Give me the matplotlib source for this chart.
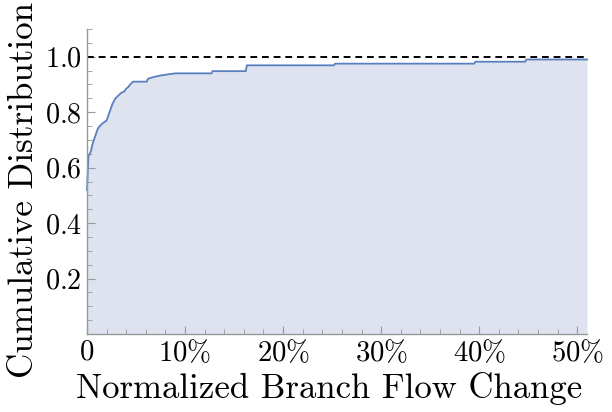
import matplotlib
matplotlib.use("Agg")
import matplotlib.pyplot as plt
from matplotlib.ticker import MultipleLocator

plt.rcParams['mathtext.fontset'] = 'cm'
plt.rcParams['font.family'] = 'serif'
plt.rcParams['font.serif'] = ['cmr10']
plt.rcParams['axes.unicode_minus'] = False

flow_change = [0.0, 0.0015, 0.004, 0.006, 0.008, 0.011, 0.013, 0.016, 0.020, 0.023, 0.026,
               0.029, 0.032, 0.035, 0.038, 0.040, 0.042, 0.044,
               0.047, 0.061, 0.062, 0.067, 0.076, 0.090, 0.127, 0.128, 0.162, 0.163,
               0.252, 0.253, 0.395, 0.396, 0.447, 0.448, 0.51]
cdf = [0.52, 0.64, 0.66, 0.69, 0.71, 0.74, 0.75, 0.76, 0.77, 0.80, 0.83,
       0.85, 0.86, 0.87, 0.875, 0.885, 0.89, 0.90,
       0.91, 0.91, 0.92, 0.926, 0.933, 0.94, 0.94, 0.948, 0.948, 0.969,
       0.969, 0.975, 0.975, 0.982, 0.982, 0.99, 0.99]

x_ticks = [0, 0.1, 0.2, 0.3, 0.4, 0.5]
x_labels = ['0', '10%', '20%', '30%', '40%', '50%']
y_ticks = [0.2, 0.4, 0.6, 0.8, 1.0]
y_labels = ['0.2', '0.4', '0.6', '0.8', '1.0']

W, H = 612, 412
fig = plt.figure(figsize=(W / 100, H / 100), dpi=100)
ax_l, ax_r, ax_b, ax_t = 87, 587, 334, 29
ax = fig.add_axes([ax_l / W, (H - ax_b) / H, (ax_r - ax_l) / W, (ax_b - ax_t) / H])

ax.fill_between(flow_change, cdf, 0, color='#dee3ef', lw=0)
ax.plot(flow_change, cdf, color='#5a7fbf', lw=1.3, clip_on=False)
ax.axhline(1.0, color='black', lw=1.4, ls=(0, (3.5, 2.5)))

ax.set_xlim(0, 0.51)
ax.set_ylim(0, 1.1)
ax.set_xticks(x_ticks)
ax.set_xticklabels([r'$%s$' % l.replace('%', r'\%') for l in x_labels])
ax.set_yticks(y_ticks)
ax.set_yticklabels([r'$%s$' % l for l in y_labels])
ax.xaxis.set_minor_locator(MultipleLocator(0.02))
ax.yaxis.set_minor_locator(MultipleLocator(0.05))

for s in ['top', 'right']:
    ax.spines[s].set_visible(False)
for s in ['left', 'bottom']:
    ax.spines[s].set_color('#999999')
    ax.spines[s].set_linewidth(1.0)

ax.tick_params(which='major', direction='in', length=6, width=0.8, color='#999999',
               labelsize=21)
ax.tick_params(axis='y', which='major', pad=3.6)
ax.tick_params(axis='x', which='major', pad=4.0)
ax.tick_params(which='minor', direction='in', length=3.5, width=0.6, color='#999999')

xl = ax.set_xlabel('Normalized Branch Flow Change', fontsize=24, va='baseline', ha='center')
yl = ax.set_ylabel('Cumulative Distribution', fontsize=24, va='baseline', ha='center')

# fit text sizes to the reference extents (pixels)
fig.canvas.draw()
r = fig.canvas.get_renderer()
w = xl.get_window_extent(r).width
xl.set_fontsize(24 * 505 / w)
h = yl.get_window_extent(r).height
yl.set_fontsize(24 * 375 / h)
yw = max(t.get_window_extent(r).width for t in ax.get_yticklabels())
ax.tick_params(axis='y', labelsize=21 * 37 / yw)
xw = ax.get_xticklabels()[1].get_window_extent(r).width
ax.tick_params(axis='x', labelsize=21 * 53 / xw)

axw, axh = ax_r - ax_l, ax_b - ax_t
ax.xaxis.set_label_coords((329.5 - ax_l) / axw, (ax_b - 398) / axh)
ax.yaxis.set_label_coords((33 - ax_l) / axw, (ax_b - 190.5) / axh)

fig.savefig('out.png', dpi=100)
